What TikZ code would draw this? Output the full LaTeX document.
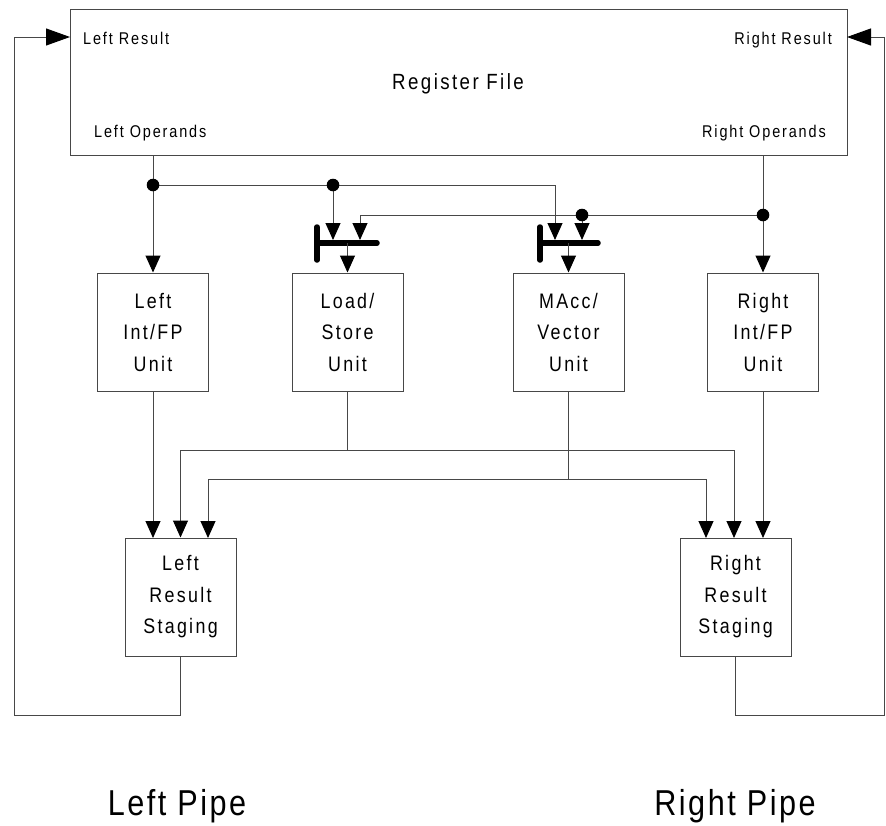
\documentclass[tikz,border=0pt]{standalone}
\usepackage{fontspec}
\setmainfont{Liberation Sans}
\newfontfamily\dfont[FakeStretch=0.85,LetterSpace=11]{Liberation Sans}
\newfontfamily\pfont[FakeStretch=0.85,LetterSpace=7]{Liberation Sans}
\usetikzlibrary{arrows.meta}
\tikzset{
  wire/.style={draw=black!72, line width=1pt},
  arr/.style={wire, -{Triangle[length=17pt,width=15pt,color=black]}},
  fbarr/.style={wire, -{Triangle[length=24pt,width=17pt,color=black]}},
  muxbar/.style={draw=black, line width=5.5pt, line cap=round},
  unitbox/.style={draw=black!72, line width=1pt, minimum width=111pt, minimum height=118pt,
    inner sep=0pt, align=center, font={\dfont\fontsize{21}{31.5}\selectfont}},
  smalllbl/.style={inner sep=0pt, font={\dfont\fontsize{17}{20}\selectfont}},
  dotnode/.style={fill=black},
}
\begin{document}
\begin{tikzpicture}[x=1pt,y=-1pt]
\useasboundingbox (0,0) rectangle (886,825);
\fill[white] (0,0) rectangle (886,825);

% register file
\node[draw=black!72, line width=1pt, minimum width=777pt, minimum height=146pt, inner sep=0pt] (rf) at (458.5,82) {};
\node[smalllbl, anchor=base west] (lrl) at (83,44) {Left Result};
\node[smalllbl, anchor=base east] (rrl) at (832,44) {Right Result};
\node[smalllbl, anchor=base west] (lol) at (94,137) {Left Operands};
\node[smalllbl, anchor=base east] (rol) at (826,137) {Right Operands};
\node[inner sep=0pt, anchor=base, font={\dfont\fontsize{22}{26}\selectfont}] (rft) at (458,89) {Register File};

% units
\node[unitbox] (lint) at (153,332) {Left\\Int/FP\\Unit};
\node[unitbox] (ls) at (347.5,332) {Load/\\Store\\Unit};
\node[unitbox] (macc) at (568.5,332) {MAcc/\\Vector\\Unit};
\node[unitbox] (rint) at (763,332) {Right\\Int/FP\\Unit};

% staging
\node[unitbox] (lst) at (180.5,597) {Left\\Result\\Staging};
\node[unitbox] (rst) at (735.5,597) {Right\\Result\\Staging};

% pipe labels
\node[inner sep=0pt, anchor=base, font={\pfont\fontsize{36}{40}\selectfont}] (lp) at (177,815) {Left Pipe};
\node[inner sep=0pt, anchor=base, font={\pfont\fontsize{36}{40}\selectfont}] (rp) at (735,815) {Right Pipe};

% coordinates
\coordinate (j1) at (153,185);
\coordinate (j2) at (333,185);
\coordinate (j3) at (555,185);
\coordinate (k) at (360,215);
\coordinate (j4) at (582,215);
\coordinate (j5) at (763,215);
\coordinate (lsA) at (333,240);
\coordinate (lsB) at (360,240);
\coordinate (mcA) at (555,240);
\coordinate (mcB) at (582,240);
\coordinate (lsM) at (347.5,243);
\coordinate (mcM) at (568.5,243);
\coordinate (b1) at (347.5,450);
\coordinate (b2) at (568.5,479);
\coordinate (l1) at (153,538);
\coordinate (l3) at (208,538);
\coordinate (r1) at (706,538);
\coordinate (r2) at (734,538);
\coordinate (r3) at (763,538);
\coordinate (lfb) at (14,715);
\coordinate (rfb) at (884.5,715);
\coordinate (lres) at (70,37);
\coordinate (rres) at (847,37);

% operand feeds
\draw[arr] (rf.south -| lint.north) -- (lint.north);
\draw[arr] (rf.south -| rint.north) -- (rint.north);
\draw[wire] (j1) -- (j3);
\draw[arr] (j2) -- (lsA);
\draw[arr] (j3) -- (mcA);
\draw[wire] (j5) -- (k);
\draw[arr] (k) -- (lsB);
\draw[arr] (j4) -- (mcB);

% muxes
\draw[muxbar] (317,227) -- (317,260);
\draw[muxbar] (317,243) -- (377,243);
\draw[muxbar] (540,227) -- (540,260);
\draw[muxbar] (540,243) -- (598,243);
\draw[arr] (lsM) -- (ls.north);
\draw[arr] (mcM) -- (macc.north);

% junction dots
\foreach \p in {j1,j2,j4,j5} \fill[dotnode] (\p) circle (6.3);

% results to staging
\draw[arr] (lint.south) -- (l1);
\draw[arr] (rint.south) -- (r3);
\draw[wire] (ls.south) -- (b1);
\draw[arr] (b1) -| (lst.north);
\draw[arr] (b1) -| (r2);
\draw[wire] (macc.south) -- (b2);
\draw[arr] (b2) -| (l3);
\draw[arr] (b2) -| (r1);

% feedback
\draw[fbarr] (lst.south) |- (lfb) |- (lres);
\draw[fbarr] (rst.south) |- (rfb) |- (rres);
\end{tikzpicture}
\end{document}
